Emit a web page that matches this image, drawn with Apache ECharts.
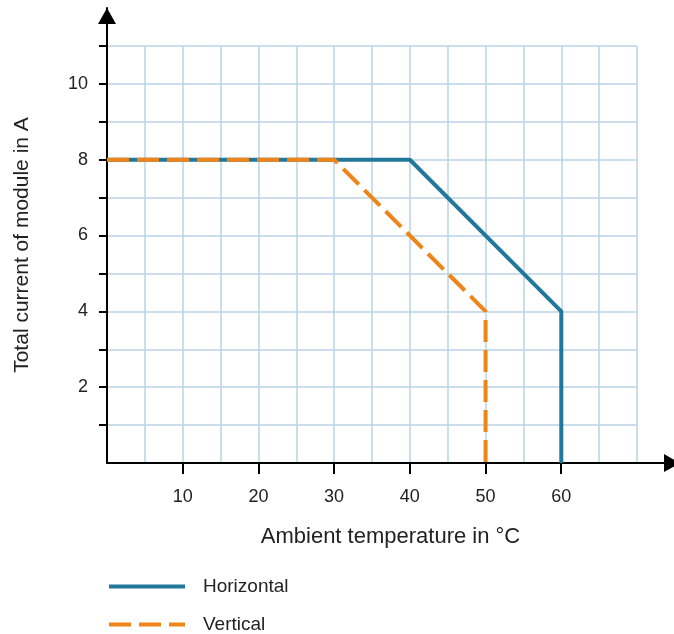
<!DOCTYPE html>
<html>
<head>
<meta charset="utf-8">
<script src="https://cdn.jsdelivr.net/npm/echarts@6/dist/echarts.min.js"></script>
<style>html,body{margin:0;padding:0;background:#fff}#c{width:674px;height:634px}</style>
</head>
<body>
<div id="c"></div>
<script>
const horizontal = [[0, 8], [40, 8], [60, 4], [60, 0]];
const vertical = [[0, 8], [30, 8], [50, 4], [50, 0]];
const xTicks = [10, 20, 30, 40, 50, 60];
const yTicks = [1, 2, 3, 4, 5, 6, 7, 8, 9, 10, 11];
const yLabels = [2, 4, 6, 8, 10];
const seriesNames = ['Horizontal', 'Vertical'];
const xTitle = 'Ambient temperature in °C';
const yTitle = 'Total current of module in A';

const FONT = '"Liberation Sans", Arial, sans-serif';
const TXT = '#222';
const BLUE = '#21789b';
const ORANGE = '#ef8419';
const GRIDC = '#b8d5e5';

function legendFor(name, top) {
  return {
    orient: 'vertical', left: 107, top: top, padding: 0,
    itemWidth: 76, itemHeight: 14,
    itemStyle: {opacity: 0, borderWidth: 0},
    lineStyle: {width: 4},
    textStyle: {fontSize: 19, color: TXT, fontFamily: FONT, padding: [0, 0, 0, 13]},
    data: [name]
  };
}

const chart = echarts.init(document.getElementById('c'), null, {renderer: 'canvas'});
chart.setOption({
  animation: false,
  backgroundColor: '#fff',
  textStyle: {fontFamily: FONT},
  grid: [
    {left: 107, top: 46, width: 530, height: 417},
    {left: 107, top: 8, width: 567, height: 455}
  ],
  xAxis: [
    {type: 'value', gridIndex: 0, min: 0, max: 70, interval: 5,
     axisLine: {show: false}, axisTick: {show: false}, axisLabel: {show: false},
     splitLine: {show: true, lineStyle: {color: GRIDC, width: 1.5}}},
    {type: 'value', gridIndex: 1, min: 0, max: 74.9, interval: 10,
     axisLine: {show: true, symbol: ['none', 'triangle'], symbolSize: [18, 16], symbolOffset: [0, -2],
       lineStyle: {color: '#000', width: 2}},
     axisTick: {show: true, customValues: xTicks, length: 11, lineStyle: {color: '#000', width: 2}},
     axisLabel: {show: true, customValues: xTicks, margin: 25, fontSize: 18, color: TXT, fontFamily: FONT},
     splitLine: {show: false},
     name: xTitle, nameLocation: 'middle', nameGap: 63,
     nameTextStyle: {fontSize: 22, color: TXT, fontFamily: FONT}}
  ],
  yAxis: [
    {type: 'value', gridIndex: 0, min: 0, max: 11, interval: 1,
     axisLine: {show: false}, axisTick: {show: false}, axisLabel: {show: false},
     splitLine: {show: true, lineStyle: {color: GRIDC, width: 1.5}}},
    {type: 'value', gridIndex: 1, min: 0, max: 12, interval: 1,
     axisLine: {show: true, symbol: ['none', 'triangle'], symbolSize: [18, 16], symbolOffset: [0, -8],
       lineStyle: {color: '#000', width: 2}},
     axisTick: {show: true, customValues: yTicks, length: 8, lineStyle: {color: '#000', width: 2}},
     axisLabel: {show: true, customValues: yLabels, margin: 19, fontSize: 18, color: TXT, fontFamily: FONT},
     splitLine: {show: false}}
  ],
  legend: [legendFor(seriesNames[0], 577), legendFor(seriesNames[1], 615)],
  graphic: [
    {type: 'text', x: 22, y: 245, rotation: Math.PI / 2,
     style: {text: yTitle, fontSize: 21, fill: TXT, font: '21px ' + FONT, textAlign: 'center', textVerticalAlign: 'middle'}}
  ],
  series: [
    {name: seriesNames[0], type: 'line', xAxisIndex: 0, yAxisIndex: 0, data: horizontal,
     showSymbol: false, symbol: 'none', color: BLUE,
     lineStyle: {color: BLUE, width: 4}, z: 3},
    {name: seriesNames[1], type: 'line', xAxisIndex: 0, yAxisIndex: 0, data: vertical,
     showSymbol: false, symbol: 'none', color: ORANGE,
     lineStyle: {color: ORANGE, width: 4, type: [22, 8]}, z: 4}
  ]
});
</script>
</body>
</html>
